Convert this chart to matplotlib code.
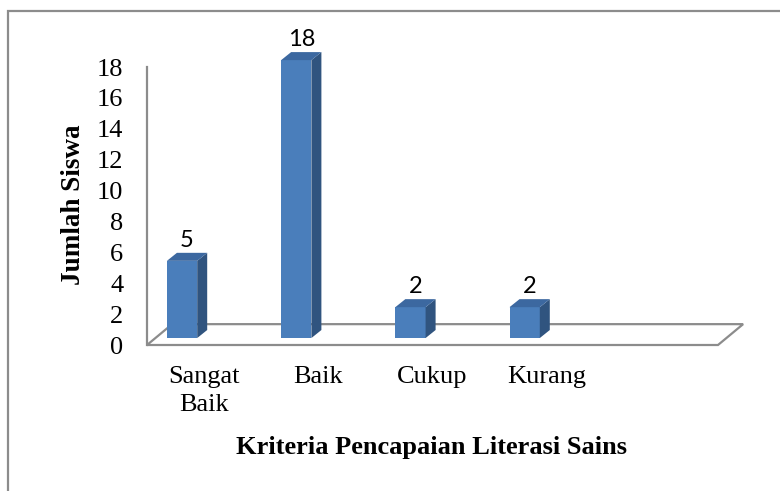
import matplotlib
matplotlib.use("Agg")
import matplotlib.pyplot as plt
from matplotlib.patches import Polygon, Rectangle

# --- data ---
categories = ["Sangat\nBaik", "Baik", "Cukup", "Kurang", ""]
values = [5, 18, 2, 2]
y_ticks = [0, 2, 4, 6, 8, 10, 12, 14, 16, 18]

# --- style ---
plt.rcParams['font.family'] = ['Liberation Serif', 'DejaVu Serif']
FRONT = "#4A7EBB"
SIDE = "#30547F"
TOP = "#3C68A0"
GRID_GRAY = "#8C8C8C"

W, H = 780, 491
fig = plt.figure(figsize=(W / 100, H / 100), dpi=100)

# axes placed so one category = 114.2 px, one unit = 15.44 px
xu, yu = 114.2, 15.44
x_lo, x_hi = -0.5, 4.8
y_lo, y_hi = -0.3, 19.5
ax = fig.add_axes([147 / W, (H - 345 - (-y_lo) * yu) / H,
                   (x_hi - x_lo) * xu / W, (y_hi - y_lo) * yu / H])
ax.set_xlim(x_lo, x_hi)
ax.set_ylim(y_lo, y_hi)
ax.patch.set_visible(False)

for s in ["top", "right", "bottom"]:
    ax.spines[s].set_visible(False)
ax.spines["left"].set_position(("data", -0.5))
ax.spines["left"].set_bounds(0, 18)
ax.spines["left"].set_color(GRID_GRAY)
ax.spines["left"].set_linewidth(1.6)

ax.set_yticks(y_ticks)
ax.tick_params(axis="y", length=0, pad=17, labelsize=19)
ax.set_xticks(range(len(categories) - 1))
ax.set_xticklabels(categories[:-1], fontsize=19, linespacing=1.35)
ax.tick_params(axis="x", length=0, pad=12)

# floor (3D base), drawn behind bars
n = len(categories)
fdx, fdy = 0.22, 1.35
floor = Polygon([(-0.5, 0), (n - 0.5, 0), (n - 0.5 + fdx, fdy), (-0.5 + fdx, fdy)],
                closed=True, fill=False, edgecolor=GRID_GRAY, lw=1.6, zorder=1)
ax.add_patch(floor)

# bars: front via ax.bar, side and top as polygons
off, bw, base = -0.193, 0.265, 0.45
dx, dy = 0.0876, 0.52
xs = [i + off for i in range(len(values))]
ax.bar(xs, values, width=bw, bottom=base, color=FRONT, zorder=3)
for x, v in zip(xs, values):
    x0, x1 = x - bw / 2, x + bw / 2
    top = base + v
    ax.add_patch(Polygon([(x1, base), (x1 + dx, base + dy), (x1 + dx, top + dy), (x1, top)],
                         closed=True, facecolor=SIDE, edgecolor="none", zorder=3))
    ax.add_patch(Polygon([(x0, top), (x0 + dx, top + dy), (x1 + dx, top + dy), (x1, top)],
                         closed=True, facecolor=TOP, edgecolor="none", zorder=3))
    ax.text(x + dx / 2, top + dy + 0.4, str(v), ha="center", va="baseline",
            fontsize=17, family=["Lato", "DejaVu Sans"], zorder=4)

# axis titles
fig.text(432 / W, 1 - 454 / H, "Kriteria Pencapaian Literasi Sains", ha="center",
         va="baseline", fontsize=19, fontweight="bold")
fig.text(74 / W, 1 - 205 / H, "Jumlah Siswa", ha="center", va="center",
         rotation=90, fontsize=19.5, fontweight="bold")

# chart border (right and bottom are cropped in the original)
fig.add_artist(Rectangle((8 / W, -0.1), 1.2, 1 - 11 / H + 0.1, transform=fig.transFigure,
                         fill=False, edgecolor=GRID_GRAY, lw=1.6))

fig.savefig("out.png", dpi=100)
